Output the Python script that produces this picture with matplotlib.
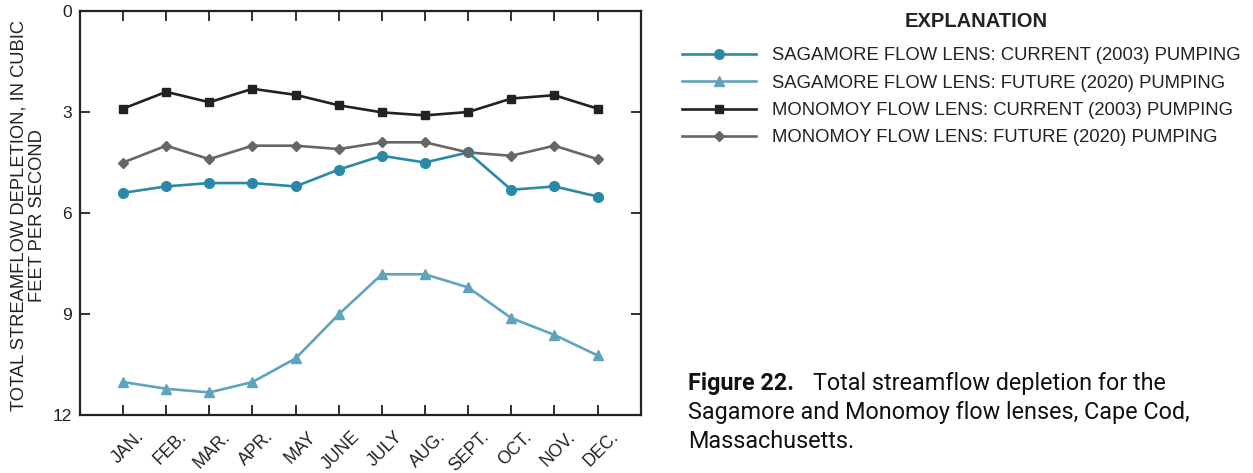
import matplotlib
matplotlib.use("Agg")
import matplotlib.pyplot as plt
from matplotlib.transforms import ScaledTranslation

months = ["JAN.", "FEB.", "MAR.", "APR.", "MAY", "JUNE", "JULY", "AUG.",
          "SEPT.", "OCT.", "NOV.", "DEC."]
sag_current = [5.40, 5.21, 5.11, 5.11, 5.21, 4.71, 4.30, 4.50, 4.20, 5.31, 5.21, 5.51]
sag_future = [11.02, 11.22, 11.33, 11.02, 10.32, 9.01, 7.82, 7.82, 8.21, 9.12, 9.62, 10.23]
mon_current = [2.90, 2.40, 2.71, 2.31, 2.49, 2.80, 3.01, 3.10, 3.00, 2.60, 2.50, 2.90]
mon_future = [4.50, 4.00, 4.40, 4.00, 4.00, 4.10, 3.90, 3.90, 4.20, 4.30, 4.00, 4.40]
labels = ["SAGAMORE FLOW LENS: CURRENT (2003) PUMPING",
          "SAGAMORE FLOW LENS: FUTURE (2020) PUMPING",
          "MONOMOY FLOW LENS: CURRENT (2003) PUMPING",
          "MONOMOY FLOW LENS: FUTURE (2020) PUMPING"]
yticks = [0, 3, 6, 9, 12]

plt.rcParams['font.family'] = ['Liberation Sans', 'DejaVu Sans']

fig = plt.figure(figsize=(12.53, 4.73), dpi=100)
ax = fig.add_axes([0.0638, 0.1226, 0.4475, 0.8541])

x = list(range(1, len(months) + 1))
lw = 1.9
h1, = ax.plot(x, sag_current, color='#2a89a8', lw=lw, marker='o', ms=7, label=labels[0])
h2, = ax.plot(x, sag_future, color='#5ea4be', lw=lw, marker='^', ms=6.5, label=labels[1])
h3, = ax.plot(x, mon_current, color='#222222', lw=lw, marker='s', ms=6.3, label=labels[2])
h4, = ax.plot(x, mon_future, color='#666666', lw=lw, marker='D', ms=5.3, label=labels[3])

ax.set_xlim(0, 13)
ax.set_ylim(12, 0)
ax.set_yticks(yticks)
ax.set_yticklabels([str(v) for v in yticks], fontsize=12.5, color='#222222')
ax.set_xticks(x)
ax.set_xticklabels(months, rotation=45, ha='right', va='top', rotation_mode='anchor',
                   fontsize=12.7, color='#222222')
ax.tick_params(direction='in', length=7.5, width=1.3, top=True, right=True, color='#222222')
ax.tick_params(axis='x', pad=9.5)
ax.tick_params(axis='y', pad=6)
for lab in ax.get_xticklabels():
    lab.set_transform(lab.get_transform() + ScaledTranslation(0.12, 0, fig.dpi_scale_trans))
for s in ax.spines.values():
    s.set_linewidth(1.6)
    s.set_color('#222222')

fig.text(0.0225, 0.545, "TOTAL STREAMFLOW DEPLETION, IN CUBIC\nFEET PER SECOND",
         rotation=90, ha='center', va='center', fontsize=13.2, linespacing=1.05, color='#222222')

fig.text(0.779, 0.954, "EXPLANATION", ha='center', va='center', fontsize=14.5,
         fontweight='bold', color='#222222')

leg = fig.legend(handles=[h1, h2, h3, h4], loc='upper left', bbox_to_anchor=(0.544, 0.900),
                 frameon=False, fontsize=13.3, handlelength=4.05, handletextpad=0.85,
                 labelspacing=0.56, borderaxespad=0, borderpad=0)
for t in leg.get_texts():
    t.set_color('#222222')

cap_font = ['Roboto', 'DejaVu Sans']
cap_size = 16.8
fig.text(0.549, 0.190, "Figure 22.", ha='left', va='center', fontsize=cap_size, fontweight='bold',
         family=cap_font, color='#111111')
fig.text(0.6486, 0.190, "Total streamflow depletion for the", ha='left', va='center', fontsize=cap_size,
         family=cap_font, color='#111111')
fig.text(0.549, 0.127, "Sagamore and Monomoy flow lenses, Cape Cod,", ha='left', va='center',
         fontsize=cap_size, family=cap_font, color='#111111')
fig.text(0.549, 0.066, "Massachusetts.", ha='left', va='center', fontsize=cap_size,
         family=cap_font, color='#111111')

fig.savefig("out.png", dpi=100)
